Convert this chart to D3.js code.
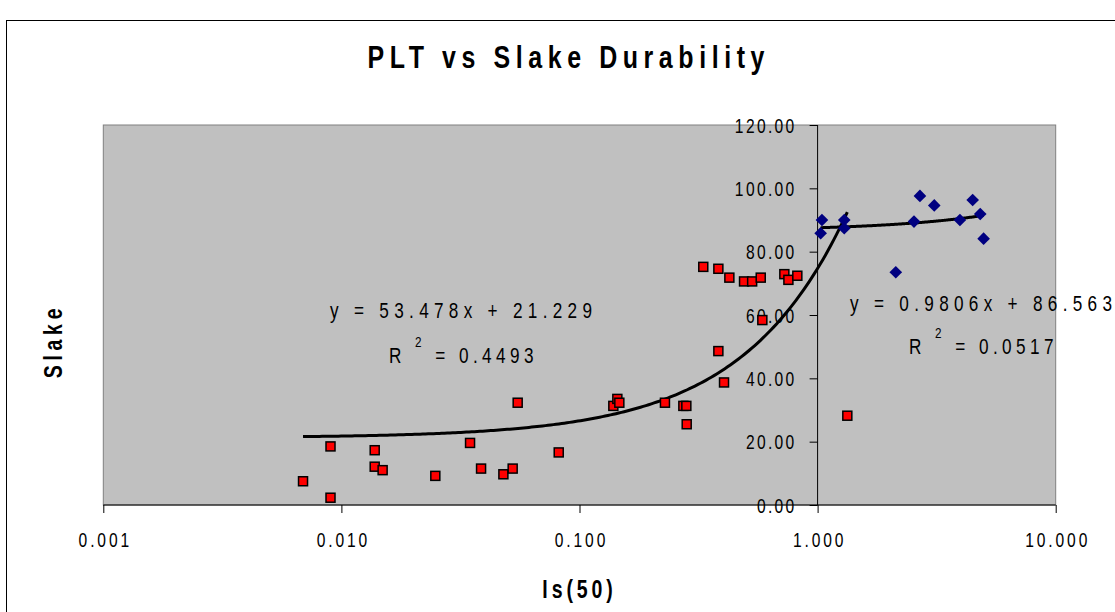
<!DOCTYPE html>
<html>
<head>
<meta charset="utf-8">
<script src="https://cdn.jsdelivr.net/npm/d3@7"></script>
<style>
    body { margin: 0; background: #fff; }
    svg text { font-family: 'Liberation Sans', Arial, sans-serif; fill: #000; }
</style>
</head>
<body>
<svg id="chart" width="1115" height="612"></svg>
<script>
// red squares: Is(50) vs Slake
const redX = [0.0069, 0.0090, 0.0090, 0.0138, 0.0138, 0.0149, 0.0248, 0.0347, 0.0386, 0.0479, 0.0524, 0.0550, 0.0818,
    0.1387, 0.1442, 0.1470, 0.2285, 0.2730, 0.2810, 0.2820, 0.3310, 0.3830, 0.4260, 0.3830, 0.4046, 0.4910, 0.5310,
    0.5770, 0.5860, 0.7250, 0.7540, 0.8220, 1.3330]
const redY = [7.5, 18.5, 2.3, 17.3, 12.1, 11.0, 9.2, 19.6, 11.5, 9.7, 11.5, 32.3, 16.6,
    31.3, 33.5, 32.3, 32.3, 31.3, 31.3, 25.5, 75.2, 74.6, 71.8, 48.6, 38.7, 70.6, 70.6,
    71.8, 58.4, 72.9, 71.1, 72.4, 28.2]

// blue diamonds
const blueX = [1.043, 1.030, 1.294, 1.294, 2.13, 2.54, 2.69, 3.09, 3.96, 4.48, 4.82, 4.98]
const blueY = [90.0, 85.8, 90.0, 87.4, 73.5, 89.5, 97.6, 94.6, 90.0, 96.3, 91.9, 84.1]

// linear trendlines (slope, intercept) as printed on the chart
const redFit = [53.478, 21.229]
const blueFit = [0.9806, 86.563]
const redLabel = ["y = 53.478x + 21.229", "0.4493"]
const blueLabel = ["y = 0.9806x + 86.563", "0.0517"]

const xTicks = [0.001, 0.01, 0.1, 1, 10]
const yTicks = [0, 20, 40, 60, 80, 100, 120]

const svg = d3.select("#chart")

const plotL = 103.3, plotR = 1055.7, plotT = 125, plotB = 505
const sx = 0.78   // text in the original is horizontally condensed

const x = d3.scaleLog().domain([0.001, 10]).range([plotL, plotR])
const y = d3.scaleLinear().domain([0, 120]).range([plotB, plotT])

// chart frame
svg.append("rect")
    .attr("x", 6.5).attr("y", 20.5)
    .attr("width", 1130).attr("height", 620)
    .attr("fill", "#fff").attr("stroke", "#000").attr("stroke-width", 1)

// plot area
svg.append("rect")
    .attr("x", plotL).attr("y", plotT)
    .attr("width", plotR - plotL).attr("height", plotB - plotT)
    .attr("fill", "#c0c0c0").attr("stroke", "#808080").attr("stroke-width", 1)

// title
svg.append("text")
    .attr("transform", "translate(566,68) scale(" + sx + ",1)")
    .attr("text-anchor", "middle")
    .attr("textLength", 397 / sx).attr("lengthAdjust", "spacing")
    .style("font-size", "32px").style("font-weight", "bold")
    .text("PLT vs Slake Durability")

// x-axis
const xAxis = svg.append("g").attr("transform", "translate(0," + plotB + ")")
    .call(d3.axisBottom(x).tickValues(xTicks).tickSize(8).tickFormat(d3.format(".3f")))
xAxis.select(".domain").attr("d", "M" + plotL + ",0H" + plotR).attr("stroke", "#000")
xAxis.selectAll(".tick line").attr("stroke", "#000")
xAxis.selectAll(".tick text")
    .attr("y", 0).attr("dy", 0)
    .attr("transform", "translate(1.5,42) scale(" + sx + ",1)")
    .style("font-size", "20px").style("letter-spacing", "3.7px")

// y-axis crossing at x = 1
const yAxis = svg.append("g").attr("transform", "translate(" + x(1) + ",0)")
    .call(d3.axisLeft(y).tickValues(yTicks).tickSize(8).tickFormat(d3.format(".2f")))
yAxis.select(".domain").attr("d", "M0," + plotT + "V" + plotB).attr("stroke", "#000")
yAxis.selectAll(".tick line").attr("stroke", "#000")
yAxis.selectAll(".tick text")
    .attr("x", 0).attr("dy", "0.36em")
    .attr("transform", "translate(-21,0) scale(" + sx + ",1)")
    .style("font-size", "20px").style("letter-spacing", "3px")

// trendlines
function fitLine(fit, xs) {
    const lo = Math.log10(d3.min(xs)), hi = Math.log10(d3.max(xs))
    const pts = d3.range(0, 201).map(i => Math.pow(10, lo + (hi - lo) * i / 200))
    return d3.line().x(d => x(d)).y(d => y(fit[0] * d + fit[1]))(pts)
}

svg.append("path").attr("d", fitLine(redFit, redX))
    .attr("fill", "none").attr("stroke", "#000").attr("stroke-width", 3)
svg.append("path").attr("d", fitLine(blueFit, blueX))
    .attr("fill", "none").attr("stroke", "#000").attr("stroke-width", 3)

// red squares
svg.append("g").selectAll("rect")
    .data(redX.map((d, i) => [d, redY[i]]))
    .enter().append("rect")
    .attr("x", d => x(d[0]) - 4.5)
    .attr("y", d => y(d[1]) - 4.5)
    .attr("width", 9).attr("height", 9)
    .attr("fill", "#ff0000").attr("stroke", "#000").attr("stroke-width", 1.5)

// blue diamonds
svg.append("g").selectAll("path")
    .data(blueX.map((d, i) => [d, blueY[i]]))
    .enter().append("path")
    .attr("d", d3.symbol().type(d3.symbolSquare).size(80))
    .attr("transform", d => "translate(" + x(d[0]) + "," + y(d[1]) + ") rotate(45)")
    .attr("fill", "#000080")

// trendline labels
function eqLabel(cx, y1, y2, lab) {
    svg.append("text")
        .attr("transform", "translate(" + cx + "," + y1 + ") scale(" + sx + ",1)")
        .attr("text-anchor", "middle")
        .attr("textLength", 262 / sx).attr("lengthAdjust", "spacing")
        .style("font-size", "22px")
        .text(lab[0])
    const t = svg.append("text")
        .attr("transform", "translate(" + (cx - 72) + "," + y2 + ") scale(" + sx + ",1)")
        .style("font-size", "22px").style("letter-spacing", "5.7px")
    t.append("tspan").text("R ")
    t.append("tspan").attr("dy", -16).style("font-size", "15px").text("2")
    t.append("tspan").attr("dy", 16).text(" = " + lab[1])
}
eqLabel(461, 318, 363, redLabel)
eqLabel(981, 311, 354, blueLabel)

// axis titles
svg.append("text")
    .attr("transform", "translate(" + ((plotL + plotR) / 2) + ",598) scale(" + sx + ",1)")
    .attr("text-anchor", "middle")
    .style("font-size", "25px").style("font-weight", "bold").style("letter-spacing", "5px")
    .text("Is(50)")

svg.append("text")
    .attr("transform", "translate(62,341) rotate(-90) scale(" + sx + ",1)")
    .attr("text-anchor", "middle")
    .style("font-size", "25px").style("font-weight", "bold").style("letter-spacing", "6px")
    .text("Slake")
</script>
</body>
</html>
